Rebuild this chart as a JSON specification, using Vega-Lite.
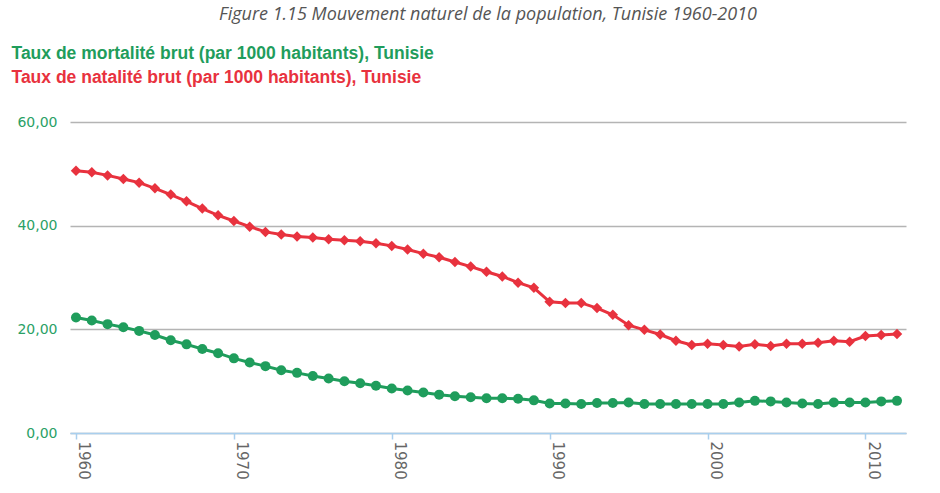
{
  "$schema": "https://vega.github.io/schema/vega-lite/v6.json",
  "width": 836,
  "height": 311,
  "autosize": {"type": "none"},
  "padding": {"left": 70, "top": 122, "right": 34, "bottom": 60},
  "background": "white",
  "title": {
    "text": "Figure 1.15 Mouvement naturel de la population, Tunisie 1960-2010",
    "font": "Open Sans",
    "fontStyle": "italic",
    "fontWeight": "normal",
    "fontSize": 18,
    "color": "#555555",
    "anchor": "middle",
    "frame": "group",
    "baseline": "alphabetic",
    "dy": -3
  },
  "data": {
    "values": [
      {"annee": 1960, "serie": "mortalite", "taux": 22.3}, {"annee": 1961, "serie": "mortalite", "taux": 21.7},
      {"annee": 1962, "serie": "mortalite", "taux": 21.0}, {"annee": 1963, "serie": "mortalite", "taux": 20.4},
      {"annee": 1964, "serie": "mortalite", "taux": 19.7}, {"annee": 1965, "serie": "mortalite", "taux": 18.9},
      {"annee": 1966, "serie": "mortalite", "taux": 17.9}, {"annee": 1967, "serie": "mortalite", "taux": 17.1},
      {"annee": 1968, "serie": "mortalite", "taux": 16.2}, {"annee": 1969, "serie": "mortalite", "taux": 15.4},
      {"annee": 1970, "serie": "mortalite", "taux": 14.4}, {"annee": 1971, "serie": "mortalite", "taux": 13.6},
      {"annee": 1972, "serie": "mortalite", "taux": 12.9}, {"annee": 1973, "serie": "mortalite", "taux": 12.1},
      {"annee": 1974, "serie": "mortalite", "taux": 11.6}, {"annee": 1975, "serie": "mortalite", "taux": 11.0},
      {"annee": 1976, "serie": "mortalite", "taux": 10.5}, {"annee": 1977, "serie": "mortalite", "taux": 10.0},
      {"annee": 1978, "serie": "mortalite", "taux": 9.6}, {"annee": 1979, "serie": "mortalite", "taux": 9.1},
      {"annee": 1980, "serie": "mortalite", "taux": 8.6}, {"annee": 1981, "serie": "mortalite", "taux": 8.2},
      {"annee": 1982, "serie": "mortalite", "taux": 7.8}, {"annee": 1983, "serie": "mortalite", "taux": 7.4},
      {"annee": 1984, "serie": "mortalite", "taux": 7.1}, {"annee": 1985, "serie": "mortalite", "taux": 6.9},
      {"annee": 1986, "serie": "mortalite", "taux": 6.7}, {"annee": 1987, "serie": "mortalite", "taux": 6.7},
      {"annee": 1988, "serie": "mortalite", "taux": 6.6}, {"annee": 1989, "serie": "mortalite", "taux": 6.3},
      {"annee": 1990, "serie": "mortalite", "taux": 5.7}, {"annee": 1991, "serie": "mortalite", "taux": 5.7},
      {"annee": 1992, "serie": "mortalite", "taux": 5.6}, {"annee": 1993, "serie": "mortalite", "taux": 5.8},
      {"annee": 1994, "serie": "mortalite", "taux": 5.8}, {"annee": 1995, "serie": "mortalite", "taux": 5.9},
      {"annee": 1996, "serie": "mortalite", "taux": 5.6}, {"annee": 1997, "serie": "mortalite", "taux": 5.6},
      {"annee": 1998, "serie": "mortalite", "taux": 5.6}, {"annee": 1999, "serie": "mortalite", "taux": 5.6},
      {"annee": 2000, "serie": "mortalite", "taux": 5.6}, {"annee": 2001, "serie": "mortalite", "taux": 5.6},
      {"annee": 2002, "serie": "mortalite", "taux": 5.9}, {"annee": 2003, "serie": "mortalite", "taux": 6.2},
      {"annee": 2004, "serie": "mortalite", "taux": 6.1}, {"annee": 2005, "serie": "mortalite", "taux": 5.9},
      {"annee": 2006, "serie": "mortalite", "taux": 5.7}, {"annee": 2007, "serie": "mortalite", "taux": 5.6},
      {"annee": 2008, "serie": "mortalite", "taux": 5.9}, {"annee": 2009, "serie": "mortalite", "taux": 5.9},
      {"annee": 2010, "serie": "mortalite", "taux": 5.9}, {"annee": 2011, "serie": "mortalite", "taux": 6.1},
      {"annee": 2012, "serie": "mortalite", "taux": 6.2},
      {"annee": 1960, "serie": "natalite", "taux": 50.6}, {"annee": 1961, "serie": "natalite", "taux": 50.3},
      {"annee": 1962, "serie": "natalite", "taux": 49.7}, {"annee": 1963, "serie": "natalite", "taux": 49.0},
      {"annee": 1964, "serie": "natalite", "taux": 48.3}, {"annee": 1965, "serie": "natalite", "taux": 47.2},
      {"annee": 1966, "serie": "natalite", "taux": 46.0}, {"annee": 1967, "serie": "natalite", "taux": 44.7},
      {"annee": 1968, "serie": "natalite", "taux": 43.3}, {"annee": 1969, "serie": "natalite", "taux": 42.0},
      {"annee": 1970, "serie": "natalite", "taux": 40.9}, {"annee": 1971, "serie": "natalite", "taux": 39.8},
      {"annee": 1972, "serie": "natalite", "taux": 38.8}, {"annee": 1973, "serie": "natalite", "taux": 38.3},
      {"annee": 1974, "serie": "natalite", "taux": 37.9}, {"annee": 1975, "serie": "natalite", "taux": 37.7},
      {"annee": 1976, "serie": "natalite", "taux": 37.4}, {"annee": 1977, "serie": "natalite", "taux": 37.2},
      {"annee": 1978, "serie": "natalite", "taux": 37.0}, {"annee": 1979, "serie": "natalite", "taux": 36.6},
      {"annee": 1980, "serie": "natalite", "taux": 36.1}, {"annee": 1981, "serie": "natalite", "taux": 35.4},
      {"annee": 1982, "serie": "natalite", "taux": 34.6}, {"annee": 1983, "serie": "natalite", "taux": 33.9},
      {"annee": 1984, "serie": "natalite", "taux": 33.0}, {"annee": 1985, "serie": "natalite", "taux": 32.1},
      {"annee": 1986, "serie": "natalite", "taux": 31.1}, {"annee": 1987, "serie": "natalite", "taux": 30.2},
      {"annee": 1988, "serie": "natalite", "taux": 29.0}, {"annee": 1989, "serie": "natalite", "taux": 28.0},
      {"annee": 1990, "serie": "natalite", "taux": 25.3}, {"annee": 1991, "serie": "natalite", "taux": 25.1},
      {"annee": 1992, "serie": "natalite", "taux": 25.1}, {"annee": 1993, "serie": "natalite", "taux": 24.1},
      {"annee": 1994, "serie": "natalite", "taux": 22.8}, {"annee": 1995, "serie": "natalite", "taux": 20.8},
      {"annee": 1996, "serie": "natalite", "taux": 19.9}, {"annee": 1997, "serie": "natalite", "taux": 19.0},
      {"annee": 1998, "serie": "natalite", "taux": 17.8}, {"annee": 1999, "serie": "natalite", "taux": 17.0},
      {"annee": 2000, "serie": "natalite", "taux": 17.2}, {"annee": 2001, "serie": "natalite", "taux": 17.0},
      {"annee": 2002, "serie": "natalite", "taux": 16.7}, {"annee": 2003, "serie": "natalite", "taux": 17.1},
      {"annee": 2004, "serie": "natalite", "taux": 16.8}, {"annee": 2005, "serie": "natalite", "taux": 17.2},
      {"annee": 2006, "serie": "natalite", "taux": 17.2}, {"annee": 2007, "serie": "natalite", "taux": 17.4},
      {"annee": 2008, "serie": "natalite", "taux": 17.8}, {"annee": 2009, "serie": "natalite", "taux": 17.6},
      {"annee": 2010, "serie": "natalite", "taux": 18.7}, {"annee": 2011, "serie": "natalite", "taux": 18.9},
      {"annee": 2012, "serie": "natalite", "taux": 19.1}
    ]
  },
  "encoding": {
    "x": {
      "field": "annee",
      "type": "quantitative",
      "scale": {"domain": [1959.62, 2012.57], "nice": false, "zero": false},
      "axis": {
        "title": null,
        "values": [1960, 1970, 1980, 1990, 2000, 2010],
        "format": "d",
        "grid": false,
        "domainColor": "#a9cfee",
        "domainWidth": 1.5,
        "tickColor": "#a9cfee",
        "tickWidth": 1.5,
        "tickSize": 6,
        "labelAngle": 90,
        "labelAlign": "left",
        "labelBaseline": "bottom",
        "labelPadding": 2,
        "labelFont": "DejaVu Sans",
        "labelFontSize": 15,
        "labelColor": "#666666",
        "labelFlush": false,
        "labelOverlap": false
      }
    },
    "y": {
      "field": "taux",
      "type": "quantitative",
      "scale": {"domain": [0, 60], "nice": false},
      "axis": {
        "title": null,
        "values": [0, 20, 40, 60],
        "labelExpr": "replace(format(datum.value, '.2f'), '.', ',')",
        "domain": false,
        "ticks": false,
        "gridColor": "#b4b4b4",
        "gridWidth": 1.5,
        "labelFont": "DejaVu Sans",
        "labelFontSize": 14,
        "labelColor": "#2aa166",
        "labelPadding": 13
      }
    },
    "color": {
      "field": "serie",
      "type": "nominal",
      "scale": {"domain": ["mortalite", "natalite"], "range": ["#1f9d5c", "#e8323e"]},
      "legend": {
        "title": null,
        "orient": "none",
        "legendX": -76,
        "legendY": -77,
        "direction": "vertical",
        "labelExpr": "datum.value == 'mortalite' ? 'Taux de mortalité brut (par 1000 habitants), Tunisie' : 'Taux de natalité brut (par 1000 habitants), Tunisie'",
        "labelColor": {"expr": "datum.value == 'mortalite' ? '#1f9d5c' : '#e8323e'"},
        "labelFont": "Liberation Sans",
        "labelFontSize": 17.5,
        "labelFontWeight": "bold",
        "labelLimit": 0,
        "labelOffset": 0,
        "symbolOpacity": 0,
        "symbolSize": 0,
        "symbolStrokeWidth": 0,
        "rowPadding": 5.5,
        "padding": 0
      }
    }
  },
  "layer": [
    {"mark": {"type": "line", "strokeWidth": 3}},
    {
      "mark": {"type": "point", "filled": true, "opacity": 1},
      "encoding": {
        "shape": {"field": "serie", "type": "nominal", "scale": {"domain": ["mortalite", "natalite"], "range": ["circle", "diamond"]}, "legend": null},
        "size": {"field": "serie", "type": "nominal", "scale": {"domain": ["mortalite", "natalite"], "range": [100, 110]}, "legend": null}
      }
    }
  ],
  "config": {
    "view": {"stroke": null}
  }
}
